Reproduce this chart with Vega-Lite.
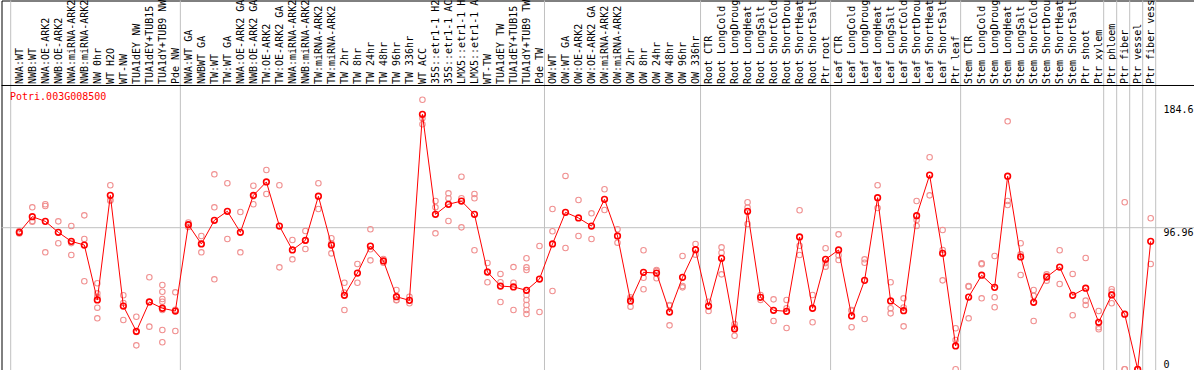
{
  "$schema": "https://vega.github.io/schema/vega-lite/v6.json",
  "width": 1192.5,
  "height": 369.5,
  "autosize": {"type": "none"},
  "padding": {"left": 1.5, "top": 0.5, "right": 0, "bottom": 0},
  "background": "white",
  "config": {"view": {"stroke": "#000000", "strokeWidth": 1}},
  "data": {"values": [
    {"c": "NWA:WT", "m": 93.8, "r": [93.0, 94.6]},
    {"c": "NWB:WT", "m": 104.5, "r": [110.9, 101.1, 101.5]},
    {"c": "NWA:OE-ARK2", "m": 101.3, "r": [113.0, 111.8, 80.1]},
    {"c": "NWB:OE-ARK2", "m": 93.8, "r": [101.3, 86.3]},
    {"c": "NWA:miRNA-ARK2", "m": 87.6, "r": [98.1, 78.3, 86.4]},
    {"c": "NWB:miRNA-ARK2", "m": 85.1, "r": [105.4, 89.2, 60.3]},
    {"c": "NW 0hr", "m": 47.5, "r": [58.9, 52.0, 49.6, 42.2, 34.9]},
    {"c": "WT H2O", "m": 119.1, "r": [126.0, 115.9, 115.4]},
    {"c": "WT-NW", "m": 43.3, "r": [50.7, 33.8, 45.4]},
    {"c": "TUA1dEY NW", "m": 26.0, "r": [36.0, 16.4, 25.6]},
    {"c": "TUA1dEY+TUB15 NW", "m": 46.1, "r": [63.0, 29.2, 46.1]},
    {"c": "TUA1dY+TUB9 NW", "m": 41.8, "r": [57.7, 53.1, 48.1, 46.3, 40.6, 26.9, 18.5]},
    {"c": "Pde NW", "m": 39.9, "r": [52.7, 26.2, 40.8]},
    {"c": "NWA:WT GA", "m": 99.0, "r": [100.5, 97.5, 99.0]},
    {"c": "NWBWT GA", "m": 85.8, "r": [91.3, 80.1, 86.0]},
    {"c": "TW:WT", "m": 102.0, "r": [133.5, 110.9, 61.6]},
    {"c": "TW:WT GA", "m": 108.2, "r": [127.4, 89.2]},
    {"c": "NWA:OE-ARK2 GA", "m": 93.8, "r": [107.7, 80.1]},
    {"c": "NWB:OE-ARK2 GA", "m": 119.1, "r": [125.7, 113.0, 118.6]},
    {"c": "TW:OE-ARK2", "m": 128.3, "r": [136.5, 120.0]},
    {"c": "TW:OE-ARK2 GA", "m": 98.1, "r": [126.0, 69.8]},
    {"c": "NWA:miRNA-ARK2 GA", "m": 81.7, "r": [88.5, 75.3]},
    {"c": "NWB:miRNA-ARK2 GA", "m": 88.3, "r": [94.7, 82.4, 88.0]},
    {"c": "TW:miRNA-ARK2", "m": 118.5, "r": [127.4, 109.8]},
    {"c": "TW:miRNA-ARK2 GA", "m": 85.1, "r": [89.7, 79.4, 86.2]},
    {"c": "TW 2hr", "m": 50.7, "r": [59.3, 52.5, 40.6]},
    {"c": "TW 8hr", "m": 65.9, "r": [72.1, 59.3]},
    {"c": "TW 24hr", "m": 84.4, "r": [95.9, 82.2, 74.6]},
    {"c": "TW 48hr", "m": 74.2, "r": [75.5, 72.9]},
    {"c": "TW 96hr", "m": 49.7, "r": [54.3, 47.5, 47.3]},
    {"c": "TW 336hr", "m": 47.2, "r": [49.7, 45.2]},
    {"c": "WT ACC", "m": 174.6, "r": [184.6, 171.9, 167.8]},
    {"c": "35S::etr1-1 H2O", "m": 106.1, "r": [115.2, 110.9, 93.1]},
    {"c": "35S::etr1-1 ACC", "m": 113.0, "r": [120.5, 117.1, 101.5]},
    {"c": "LMX5::etr1-1 H2O", "m": 115.2, "r": [131.9, 117.1, 97.2]},
    {"c": "LMX5::etr1-1 ACC", "m": 106.1, "r": [120.0, 117.1, 81.5]},
    {"c": "WT-TW", "m": 66.6, "r": [72.8, 59.6, 67.0]},
    {"c": "TUA1dEY TW", "m": 57.0, "r": [65.3, 46.1, 59.6]},
    {"c": "TUA1dEY+TUB15 TW", "m": 56.4, "r": [70.0, 59.3, 40.6]},
    {"c": "TUA1dY+TUB9 TW", "m": 54.1, "r": [76.0, 69.8, 68.0, 50.9, 47.5, 44.0, 40.6, 37.9]},
    {"c": "Pde TW", "m": 61.8, "r": [84.4, 39.2]},
    {"c": "OW:WT", "m": 85.8, "r": [109.8, 94.5, 53.6]},
    {"c": "OW:WT GA", "m": 107.5, "r": [132.4, 83.1]},
    {"c": "OW:OE-ARK2", "m": 103.6, "r": [115.9, 91.3]},
    {"c": "OW:OE-ARK2 GA", "m": 98.1, "r": [106.8, 89.2]},
    {"c": "OW:miRNA-ARK2", "m": 116.4, "r": [123.3, 109.1]},
    {"c": "OW:miRNA-ARK2 GA", "m": 91.3, "r": [95.9, 86.7]},
    {"c": "OW 2hr", "m": 46.8, "r": [49.3, 42.9, 48.2]},
    {"c": "OW 8hr", "m": 66.4, "r": [81.5, 62.7, 54.8]},
    {"c": "OW 24hr", "m": 65.9, "r": [68.0, 62.3, 67.4]},
    {"c": "OW 48hr", "m": 39.2, "r": [44.0, 30.1, 43.5]},
    {"c": "OW 96hr", "m": 63.0, "r": [77.6, 57.0, 56.1]},
    {"c": "OW 336hr", "m": 81.9, "r": [85.8, 78.5]},
    {"c": "Root CTR", "m": 43.3, "r": [46.3, 39.9]},
    {"c": "Root LongCold", "m": 76.0, "r": [83.5, 79.8, 65.0]},
    {"c": "Root LongDrought", "m": 27.6, "r": [31.0, 23.0, 28.8]},
    {"c": "Root LongHeat", "m": 108.2, "r": [114.4, 99.5, 110.7]},
    {"c": "Root LongSalt", "m": 49.3, "r": [50.9, 47.5]},
    {"c": "Root ShortCold", "m": 40.4, "r": [47.9, 33.1]},
    {"c": "Root ShortDrought", "m": 39.7, "r": [47.5, 41.8, 28.3]},
    {"c": "Root ShortHeat", "m": 90.6, "r": [108.9, 78.3, 84.6]},
    {"c": "Root ShortSalt", "m": 41.8, "r": [50.9, 32.2]},
    {"c": "Ptr root", "m": 75.3, "r": [82.9, 70.3, 72.7]},
    {"c": "Leaf CTR", "m": 81.7, "r": [92.4, 74.8, 78.0]},
    {"c": "Leaf LongCold", "m": 36.5, "r": [40.6, 28.8, 40.1]},
    {"c": "Leaf LongDrought", "m": 60.9, "r": [75.3, 73.0, 34.4]},
    {"c": "Leaf LongHeat", "m": 117.5, "r": [126.0, 110.4]},
    {"c": "Leaf LongSalt", "m": 46.8, "r": [59.6, 41.8, 38.3]},
    {"c": "Leaf ShortCold", "m": 40.1, "r": [48.6, 42.3, 29.4]},
    {"c": "Leaf ShortDrought", "m": 105.2, "r": [115.2, 98.1, 102.3]},
    {"c": "Leaf ShortHeat", "m": 133.0, "r": [145.2, 119.1]},
    {"c": "Leaf ShortSalt", "m": 79.4, "r": [95.4, 81.7, 60.9]},
    {"c": "Ptr leaf", "m": 16.0, "r": [28.1, 20.1, 0]},
    {"c": "Stem CTR", "m": 49.5, "r": [57.0, 34.9, 56.6]},
    {"c": "Stem LongCold", "m": 64.4, "r": [72.6, 48.6, 72.0]},
    {"c": "Stem LongDrought", "m": 56.1, "r": [77.6, 49.3, 42.5]},
    {"c": "Stem LongHeat", "m": 132.2, "r": [169.8, 115.2, 112.5]},
    {"c": "Stem LongSalt", "m": 76.9, "r": [86.3, 78.7, 64.6]},
    {"c": "Stem ShortCold", "m": 45.9, "r": [54.3, 50.3, 33.1]},
    {"c": "Stem ShortDrought", "m": 63.2, "r": [63.9, 60.7, 65.0]},
    {"c": "Stem ShortHeat", "m": 70.0, "r": [81.5, 58.4]},
    {"c": "Stem ShortSalt", "m": 50.7, "r": [65.3, 37.0]},
    {"c": "Ptr shoot", "m": 55.5, "r": [76.2, 47.0, 44.0]},
    {"c": "Ptr xylem", "m": 32.2, "r": [39.9, 28.8, 27.4]},
    {"c": "Ptr phloem", "m": 50.9, "r": [54.8, 53.1, 45.2]},
    {"c": "Ptr fiber", "m": 37.7, "r": [114.4, 0, 0]},
    {"c": "Ptr vessel", "m": 0, "r": [0, 0]},
    {"c": "Ptr fiber vessel", "m": 87.6, "r": [103.4, 72.1]}
  ]},
  "encoding": {
    "x": {
      "field": "c",
      "type": "ordinal",
      "scale": {
        "type": "point",
        "padding": 0,
        "range": [17.8, 1149.2],
        "round": false,
        "domain": ["NWA:WT", "NWB:WT", "NWA:OE-ARK2", "NWB:OE-ARK2", "NWA:miRNA-ARK2", "NWB:miRNA-ARK2", "NW 0hr", "WT H2O", "WT-NW", "TUA1dEY NW", "TUA1dEY+TUB15 NW", "TUA1dY+TUB9 NW", "Pde NW", "NWA:WT GA", "NWBWT GA", "TW:WT", "TW:WT GA", "NWA:OE-ARK2 GA", "NWB:OE-ARK2 GA", "TW:OE-ARK2", "TW:OE-ARK2 GA", "NWA:miRNA-ARK2 GA", "NWB:miRNA-ARK2 GA", "TW:miRNA-ARK2", "TW:miRNA-ARK2 GA", "TW 2hr", "TW 8hr", "TW 24hr", "TW 48hr", "TW 96hr", "TW 336hr", "WT ACC", "35S::etr1-1 H2O", "35S::etr1-1 ACC", "LMX5::etr1-1 H2O", "LMX5::etr1-1 ACC", "WT-TW", "TUA1dEY TW", "TUA1dEY+TUB15 TW", "TUA1dY+TUB9 TW", "Pde TW", "OW:WT", "OW:WT GA", "OW:OE-ARK2", "OW:OE-ARK2 GA", "OW:miRNA-ARK2", "OW:miRNA-ARK2 GA", "OW 2hr", "OW 8hr", "OW 24hr", "OW 48hr", "OW 96hr", "OW 336hr", "Root CTR", "Root LongCold", "Root LongDrought", "Root LongHeat", "Root LongSalt", "Root ShortCold", "Root ShortDrought", "Root ShortHeat", "Root ShortSalt", "Ptr root", "Leaf CTR", "Leaf LongCold", "Leaf LongDrought", "Leaf LongHeat", "Leaf LongSalt", "Leaf ShortCold", "Leaf ShortDrought", "Leaf ShortHeat", "Leaf ShortSalt", "Ptr leaf", "Stem CTR", "Stem LongCold", "Stem LongDrought", "Stem LongHeat", "Stem LongSalt", "Stem ShortCold", "Stem ShortDrought", "Stem ShortHeat", "Stem ShortSalt", "Ptr shoot", "Ptr xylem", "Ptr phloem", "Ptr fiber", "Ptr vessel", "Ptr fiber vessel"]
      },
      "axis": {
        "orient": "top",
        "offset": -85,
        "title": null,
        "labelAngle": 270,
        "labelAlign": "left",
        "labelBaseline": "middle",
        "labelPadding": 2,
        "labelFont": "DejaVu Sans Mono",
        "labelFontSize": 10,
        "labelColor": "#000000",
        "labelLimit": 400,
        "labelOverlap": false,
        "ticks": false,
        "grid": false,
        "domain": false
      }
    }
  },
  "layer": [
    {
      "data": {"values": [{"c": "Pde NW"}, {"c": "Pde TW"}, {"c": "OW 336hr"}, {"c": "Ptr root"}, {"c": "Ptr leaf"}, {"c": "Ptr xylem"}, {"c": "Ptr phloem"}, {"c": "Ptr fiber"}, {"c": "Ptr vessel"}, {"c": "Ptr fiber vessel"}]},
      "mark": {"type": "rule", "color": "#c0c0c0", "strokeWidth": 1, "xOffset": 5},
      "encoding": {}
    },
    {
      "data": {"values": [{"c": "NWA:WT"}]},
      "mark": {"type": "rule", "color": "#c0c0c0", "strokeWidth": 1, "xOffset": -8.6},
      "encoding": {}
    },
    {
      "data": {"values": [{"v": 96.96, "col": "grid"}, {"v": 194.33, "col": "head"}]},
      "mark": {"type": "rule", "strokeWidth": 1},
      "encoding": {
        "x": null,
        "color": {"field": "col", "type": "nominal", "scale": {"domain": ["grid", "head"], "range": ["#c0c0c0", "#000000"]}, "legend": null},
        "y": {"field": "v", "type": "quantitative",
          "scale": {"domain": [0, 184.6], "range": [368.8, 99.2], "nice": false, "zero": false},
          "axis": {"orient": "right", "offset": -33, "title": null, "values": [0, 96.96, 184.6], "labelExpr": "'' + datum.value", "ticks": false, "domain": false, "grid": false, "labelAlign": "left", "labelFont": "DejaVu Sans Mono", "labelFontSize": 10, "labelColor": "#000000", "labelPadding": 2, "labelOverlap": false, "labelFlush": false,
            "labelBaseline": {"condition": {"test": "datum.value < 1", "value": "bottom"}, "value": "top"},
            "labelOffset": {"condition": {"test": "datum.value > 150", "value": 4.5}, "value": 0}}}
      }
    },
    {
      "transform": [{"flatten": ["r"]}],
      "mark": {"type": "point", "shape": "circle", "filled": false, "color": "#f09090", "strokeWidth": 1.1, "size": 30, "opacity": 1},
      "encoding": {
        "y": {"field": "r", "type": "quantitative",
          "scale": {"domain": [0, 184.6], "range": [368.8, 99.2], "nice": false, "zero": false},
          "axis": {"orient": "right", "offset": -33, "title": null, "values": [0, 96.96, 184.6], "labelExpr": "'' + datum.value", "ticks": false, "domain": false, "grid": false, "labelAlign": "left", "labelFont": "DejaVu Sans Mono", "labelFontSize": 10, "labelColor": "#000000", "labelPadding": 2, "labelOverlap": false, "labelFlush": false,
            "labelBaseline": {"condition": {"test": "datum.value < 1", "value": "bottom"}, "value": "top"},
            "labelOffset": {"condition": {"test": "datum.value > 150", "value": 4.5}, "value": 0}}}
      }
    },
    {
      "mark": {"type": "line", "color": "#ff0000", "strokeWidth": 1},
      "encoding": {
        "y": {"field": "m", "type": "quantitative",
          "scale": {"domain": [0, 184.6], "range": [368.8, 99.2], "nice": false, "zero": false},
          "axis": {"orient": "right", "offset": -33, "title": null, "values": [0, 96.96, 184.6], "labelExpr": "'' + datum.value", "ticks": false, "domain": false, "grid": false, "labelAlign": "left", "labelFont": "DejaVu Sans Mono", "labelFontSize": 10, "labelColor": "#000000", "labelPadding": 2, "labelOverlap": false, "labelFlush": false,
            "labelBaseline": {"condition": {"test": "datum.value < 1", "value": "bottom"}, "value": "top"},
            "labelOffset": {"condition": {"test": "datum.value > 150", "value": 4.5}, "value": 0}}}
      }
    },
    {
      "mark": {"type": "point", "shape": "circle", "filled": false, "color": "#ff0000", "strokeWidth": 1.6, "size": 32, "opacity": 1},
      "encoding": {
        "y": {"field": "m", "type": "quantitative",
          "scale": {"domain": [0, 184.6], "range": [368.8, 99.2], "nice": false, "zero": false},
          "axis": {"orient": "right", "offset": -33, "title": null, "values": [0, 96.96, 184.6], "labelExpr": "'' + datum.value", "ticks": false, "domain": false, "grid": false, "labelAlign": "left", "labelFont": "DejaVu Sans Mono", "labelFontSize": 10, "labelColor": "#000000", "labelPadding": 2, "labelOverlap": false, "labelFlush": false,
            "labelBaseline": {"condition": {"test": "datum.value < 1", "value": "bottom"}, "value": "top"},
            "labelOffset": {"condition": {"test": "datum.value > 150", "value": 4.5}, "value": 0}}}
      }
    },
    {
      "transform": [{"filter": "datum.c === 'NWA:WT'"}],
      "mark": {"type": "text", "align": "left", "baseline": "alphabetic", "dx": -9.3, "color": "#ff0000", "font": "DejaVu Sans Mono", "fontSize": 10},
      "encoding": {
        "y": {"datum": 184.6, "type": "quantitative",
          "scale": {"domain": [0, 184.6], "range": [368.8, 99.2], "nice": false, "zero": false},
          "axis": {"orient": "right", "offset": -33, "title": null, "values": [0, 96.96, 184.6], "labelExpr": "'' + datum.value", "ticks": false, "domain": false, "grid": false, "labelAlign": "left", "labelFont": "DejaVu Sans Mono", "labelFontSize": 10, "labelColor": "#000000", "labelPadding": 2, "labelOverlap": false, "labelFlush": false,
            "labelBaseline": {"condition": {"test": "datum.value < 1", "value": "bottom"}, "value": "top"},
            "labelOffset": {"condition": {"test": "datum.value > 150", "value": 4.5}, "value": 0}}},
        "text": {"value": "Potri.003G008500"}
      }
    }
  ]
}
